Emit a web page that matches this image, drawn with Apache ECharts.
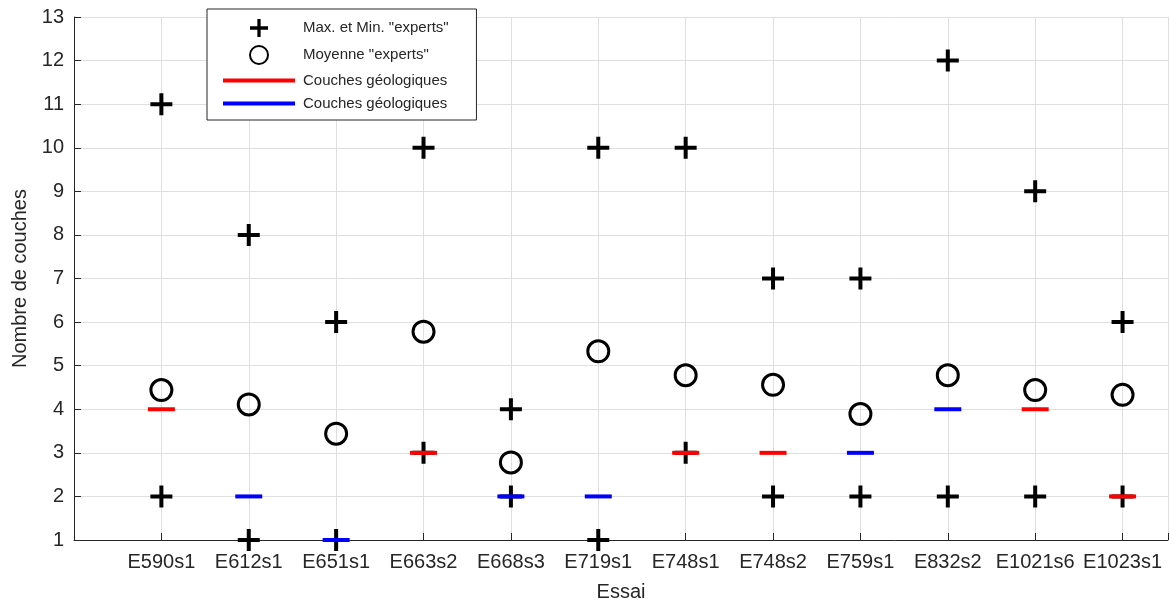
<!DOCTYPE html>
<html>
<head>
<meta charset="utf-8">
<script src="https://cdn.jsdelivr.net/npm/echarts@6/dist/echarts.min.js"></script>
<style>html,body{margin:0;padding:0;background:#fff;}#c{width:1171px;height:607px;}</style>
</head>
<body>
<div id="c"></div>
<script>
const categories = ['E590s1','E612s1','E651s1','E663s2','E668s3','E719s1','E748s1','E748s2','E759s1','E832s2','E1021s6','E1023s1'];
const maxExperts = [11, 8, 6, 10, 4, 10, 10, 7, 7, 12, 9, 6];
const minExperts = [2, 1, 1, 3, 2, 1, 3, 2, 2, 2, 2, 2];
const meanExperts = [4.44, 4.11, 3.44, 5.78, 2.78, 5.33, 4.78, 4.56, 3.89, 4.78, 4.44, 4.33];
const geoRed = [4, null, null, 3, null, null, 3, 3, null, null, 4, 2];
const geoBlue = [null, 2, 1, null, 2, 2, null, null, 3, 4, null, null];
const yTicks = [1,2,3,4,5,6,7,8,9,10,11,12,13];

const toPts = arr => arr.map((v, i) => v == null ? null : [i + 1, v]).filter(p => p);

const PLUS = 'path://M9,0H13V9H22V13H13V22H9V13H0V9H9Z';
const LINE = 'path://M0,0H72V4H0Z';
const txt = '#262626';
const font = 'Liberation Sans, Arial, sans-serif';
const nameMM = 'Max. et Min. "experts"';
const nameMean = 'Moyenne "experts"';
const nameRed = 'Couches géologiques';
const nameBlue = 'Couches géologiques ';

const chart = echarts.init(document.getElementById('c'), null, {renderer: 'canvas'});
chart.setOption({
  animation: false,
  backgroundColor: '#fff',
  textStyle: {fontFamily: font, color: txt},
  grid: {left: 74, top: 17, right: 0, bottom: 66, containLabel: false},
  legend: {
    left: 207, top: 9, orient: 'vertical',
    selectedMode: false,
    itemWidth: 72, itemHeight: 18, itemGap: 8,
    padding: [10, 25, 9, 16],
    borderColor: '#262626', borderWidth: 1, backgroundColor: '#fff',
    textStyle: {fontSize: 15, color: txt, fontFamily: font, padding: [0, 0, 0, 3]},
    data: [
      {name: nameMM, icon: PLUS},
      {name: nameMean, icon: 'circle'},
      {name: nameRed, icon: LINE},
      {name: nameBlue, icon: LINE}
    ]
  },
  xAxis: {
    type: 'value', min: 0, max: 12.52, interval: 1,
    name: 'Essai', nameLocation: 'middle', nameGap: 42,
    nameTextStyle: {fontSize: 20, color: txt, fontFamily: font},
    axisLine: {show: true, onZero: false, lineStyle: {color: '#262626', width: 1}},
    axisTick: {show: true, inside: true, length: 7, lineStyle: {color: '#262626'}},
    axisLabel: {fontSize: 20, color: txt, margin: 12, fontFamily: font,
      formatter: v => { const k = Math.round(v); return (Math.abs(v - k) < 1e-6 && k >= 1 && k <= categories.length) ? categories[k - 1] : ''; }},
    splitLine: {show: true, lineStyle: {color: '#dfdfdf', width: 1}}
  },
  yAxis: {
    type: 'value', min: yTicks[0], max: yTicks[yTicks.length - 1], interval: 1,
    name: 'Nombre de couches', nameLocation: 'middle', nameGap: 38,
    nameTextStyle: {fontSize: 20, color: txt, fontFamily: font},
    axisLine: {show: true, onZero: false, lineStyle: {color: '#262626', width: 1}},
    axisTick: {show: true, inside: true, length: 7, lineStyle: {color: '#262626'}},
    axisLabel: {fontSize: 20, color: txt, margin: 10, fontFamily: font},
    splitLine: {show: true, lineStyle: {color: '#dfdfdf', width: 1}}
  },
  series: [
    {name: nameMM, type: 'scatter', symbol: PLUS, symbolSize: 22, z: 3,
     itemStyle: {color: '#000', opacity: 1}, data: toPts(maxExperts)},
    {name: nameMM, type: 'scatter', symbol: PLUS, symbolSize: 22, z: 3,
     itemStyle: {color: '#000', opacity: 1}, data: toPts(minExperts)},
    {name: nameMean, type: 'scatter', symbol: 'circle', symbolSize: 21, z: 3,
     itemStyle: {color: 'rgba(0,0,0,0)', borderColor: '#000', borderWidth: 3, opacity: 1}, data: toPts(meanExperts)},
    {name: nameRed, type: 'scatter', symbol: 'rect', symbolSize: [27, 4], z: 4,
     itemStyle: {color: '#ff0000', opacity: 1}, data: toPts(geoRed)},
    {name: nameBlue, type: 'scatter', symbol: 'rect', symbolSize: [27, 4], z: 4,
     itemStyle: {color: '#0000ff', opacity: 1}, data: toPts(geoBlue)}
  ]
});
</script>
</body>
</html>
